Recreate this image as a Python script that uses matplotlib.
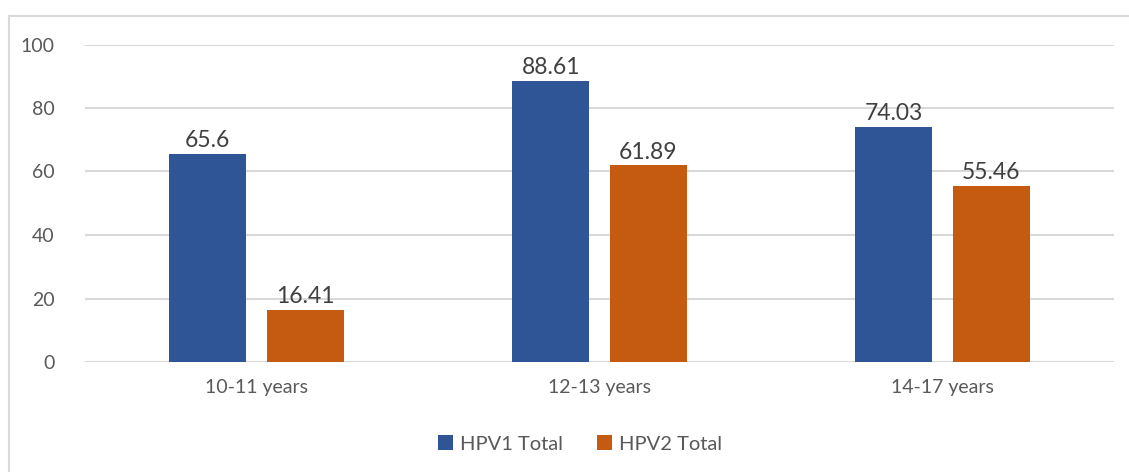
import matplotlib
matplotlib.use("Agg")
import matplotlib.pyplot as plt
import numpy as np
from matplotlib.lines import Line2D

categories = ["10-11 years", "12-13 years", "14-17 years"]
hpv1 = [65.6, 88.61, 74.03]
hpv2 = [16.41, 61.89, 55.46]
hpv1_labels = ["65.6", "88.61", "74.03"]
hpv2_labels = ["16.41", "61.89", "55.46"]
series_names = ["HPV1 Total", "HPV2 Total"]

plt.rcParams['font.family'] = ['Lato', 'DejaVu Sans']
TXT = "#595959"
BLUE = "#2F5597"
ORANGE = "#C55A11"

W, H = 1129, 472
fig = plt.figure(figsize=(W/100, H/100), dpi=100)

# chart frame (top/left visible)
fig.add_artist(Line2D([8.5/W, 8.5/W], [0, 1 - 15.5/H], color="#D9D9D9", lw=1.5))
fig.add_artist(Line2D([8.5/W, 1], [1 - 15.5/H, 1 - 15.5/H], color="#D9D9D9", lw=1.5))

ax = fig.add_axes([85/W, 1 - 362/H, (1114-85)/W, (362-44.5)/H])
x = np.arange(len(categories))
bw = 0.225
off = 0.142
b1 = ax.bar(x - off, hpv1, bw, color=BLUE, label=series_names[0], zorder=3)
b2 = ax.bar(x + off, hpv2, bw, color=ORANGE, label=series_names[1], zorder=3)

for rect, lab in zip(b1, hpv1_labels):
    ax.annotate(lab, (rect.get_x() + rect.get_width()/2, rect.get_height()),
                xytext=(0, 2), textcoords="offset points", ha="center", va="bottom",
                fontsize=16.5, color="#404040", zorder=4)
for rect, lab in zip(b2, hpv2_labels):
    ax.annotate(lab, (rect.get_x() + rect.get_width()/2, rect.get_height()),
                xytext=(0, 2), textcoords="offset points", ha="center", va="bottom",
                fontsize=16.5, color="#404040", zorder=4)

ax.set_xlim(-0.5, 2.5)
ax.set_ylim(0, 100)
ax.set_yticks([0, 20, 40, 60, 80, 100])
ax.set_xticks(x)
ax.set_xticklabels(categories)
ax.grid(axis="y", color="#D9D9D9", lw=1.5, zorder=0)
for s in ax.spines.values():
    s.set_visible(False)
ax.tick_params(axis="both", length=0, labelsize=14, colors=TXT)
ax.tick_params(axis="y", pad=22)
ax.tick_params(axis="x", pad=12)

fig.legend(handles=[b1, b2], labels=series_names, loc="center",
           bbox_to_anchor=(580/W, 1 - 444/H), ncol=2, frameon=False,
           fontsize=14.5, labelcolor=TXT, handlelength=0.72, handleheight=0.72,
           handletextpad=0.35, columnspacing=1.7)

fig.savefig("out.png", dpi=100)
